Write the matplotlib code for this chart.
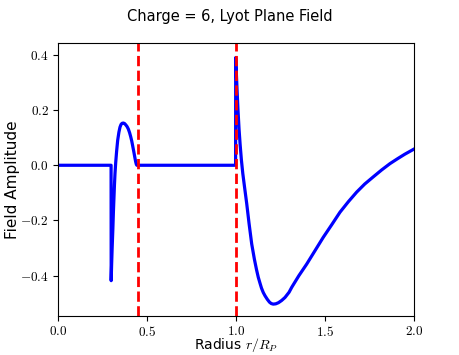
import matplotlib
matplotlib.use("Agg")
import matplotlib.pyplot as plt
import numpy as np
from matplotlib.ticker import FuncFormatter

RADIUS = [0.0, 0.300, 0.3005, 0.303, 0.306, 0.310, 0.313, 0.316, 0.319, 0.322,
          0.326, 0.331, 0.337, 0.344, 0.350, 0.356, 0.362, 0.369, 0.376,
          0.383, 0.390, 0.397, 0.404, 0.410, 0.416, 0.422, 0.428, 0.433,
          0.438, 0.442, 0.445, 0.70, 0.9995,
          1.000, 1.004, 1.008, 1.013, 1.019, 1.025, 1.032, 1.040, 1.050,
          1.062, 1.075, 1.090, 1.105, 1.117, 1.127, 1.137, 1.145, 1.155,
          1.165, 1.178, 1.190, 1.200, 1.211, 1.225,
          1.240, 1.258, 1.277, 1.300, 1.315, 1.355, 1.399, 1.445, 1.492, 1.540,
          1.586, 1.633, 1.680, 1.725, 1.773, 1.820, 1.867, 1.910, 1.950, 2.000]
FIELD = [0.0, 0.0, -0.418, -0.36, -0.30, -0.23, -0.17, -0.12, -0.07, -0.03,
         0.01, 0.05, 0.09, 0.12, 0.138, 0.148, 0.152, 0.153, 0.151,
         0.146, 0.140, 0.131, 0.118, 0.104, 0.088, 0.068, 0.048, 0.030,
         0.013, 0.003, 0.0, 0.0, 0.0,
         0.39, 0.33, 0.27, 0.20, 0.13, 0.075, 0.02, -0.03, -0.08,
         -0.139, -0.21, -0.285, -0.34, -0.378, -0.406, -0.428, -0.445, -0.461,
         -0.473, -0.486, -0.496, -0.501, -0.503, -0.502,
         -0.498, -0.490, -0.479, -0.460, -0.442, -0.400, -0.358, -0.310, -0.261, -0.215,
         -0.170, -0.132, -0.097, -0.068, -0.042, -0.017, 0.006, 0.024, 0.040, 0.058]

# radii of the marked edges
EDGES = [0.45, 1.0]

plt.rcParams.update({
    "font.family": ["DejaVu Sans"],
    "mathtext.fontset": "cm",
})

fig = plt.figure(figsize=(4.6, 3.55), dpi=100)
ax = fig.add_axes([0.1254, 0.1107, 0.7739, 0.769])

ax.plot(RADIUS, FIELD, color="blue", lw=2.3)
for r in EDGES:
    ax.axvline(r, color="red", ls="--", lw=2)

ax.set_xlim(0, 2)
ax.set_ylim(-0.545, 0.444)
ax.set_xticks(np.arange(0, 2.01, 0.5))
ax.set_yticks([-0.4, -0.2, 0.0, 0.2, 0.4])
fmt = FuncFormatter(lambda v, pos: f"${v:.1f}$")
ax.xaxis.set_major_formatter(fmt)
ax.yaxis.set_major_formatter(fmt)
ax.tick_params(labelsize=9.5, pad=3)

ax.set_xlabel(r"Radius $r/R_P$", fontsize=10)
ax.xaxis.set_label_coords(0.5, -0.075)
ax.set_ylabel("Field Amplitude", fontsize=11)
ax.yaxis.set_label_coords(-0.105, 0.5)
fig.suptitle("Charge = 6, Lyot Plane Field", fontsize=10.5, y=0.975)

fig.savefig("out.png", dpi=100)
